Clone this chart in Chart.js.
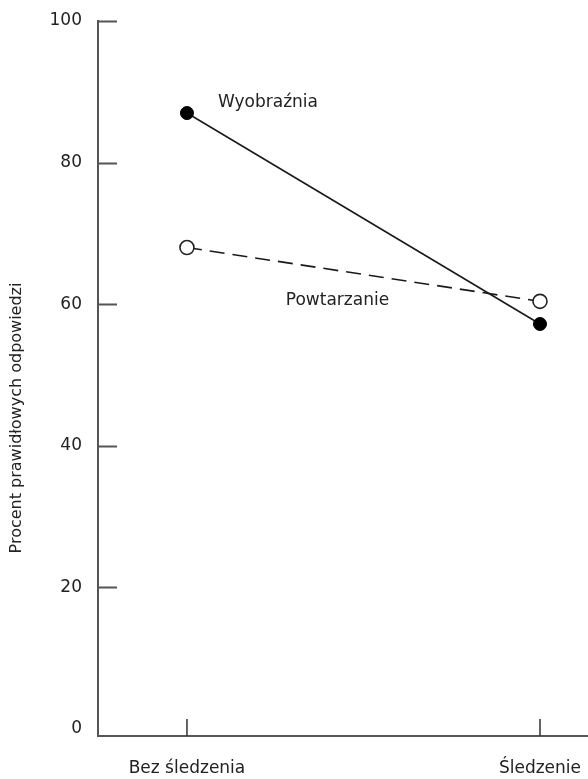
<!DOCTYPE html>
<html><head><meta charset="utf-8">
<script src="https://cdn.jsdelivr.net/npm/chart.js@4/dist/chart.umd.min.js"></script>
<style>html,body{margin:0;padding:0;background:#fff}#wrap{width:588px;height:779px;position:relative}</style>
</head><body><div id="wrap"><canvas id="c"></canvas></div>
<script>
const categories = ['Bez śledzenia', 'Śledzenie'];
const seriesNames = ['Wyobraźnia', 'Powtarzanie'];
const wyobraznia = [87, 57.2];
const powtarzanie = [68, 60.4];
const yTicks = [0, 20, 40, 60, 80, 100];
const yTitle = 'Procent prawidłowych odpowiedzi';

const FONT = '"DejaVu Sans", Verdana, sans-serif';
const AX = '#555';

const inwardTicks = {
  id: 'inwardTicks',
  afterDraw(chart) {
    const {ctx, chartArea: a, scales: {x, y}} = chart;
    ctx.save();
    ctx.strokeStyle = AX;
    ctx.lineWidth = 2;
    ctx.beginPath();
    yTicks.forEach(v => {
      if (v === 0) return;
      const py = Math.round(y.getPixelForValue(v)) + 0.5;
      ctx.moveTo(a.left, py); ctx.lineTo(a.left + 19, py);
    });
    ctx.stroke();
    ctx.lineWidth = 1.5;
    ctx.strokeStyle = '#333';
    ctx.beginPath();
    categories.forEach((c, i) => {
      const px = x.getPixelForValue(i);
      ctx.moveTo(px, a.bottom); ctx.lineTo(px, a.bottom - 17);
    });
    ctx.stroke();
    // series labels
    ctx.fillStyle = '#222';
    ctx.font = '17px ' + FONT;
    ctx.textBaseline = 'middle';
    ctx.textAlign = 'left';
    ctx.fillText(seriesNames[0], x.getPixelForValue(0) + 31, y.getPixelForValue(wyobraznia[0]) - 10);
    ctx.fillText(seriesNames[1], x.getPixelForValue(0.28), y.getPixelForValue(60.5));
    // y title
    ctx.font = '16px ' + FONT;
    ctx.save();
    ctx.translate(17, 418);
    ctx.rotate(-Math.PI / 2);
    ctx.textAlign = 'center';
    ctx.fillText(yTitle, 0, 0);
    ctx.restore();
    ctx.restore();
  }
};

new Chart(document.getElementById('c'), {
  type: 'scatter',
  data: {
    datasets: [
      {
        label: seriesNames[0],
        data: wyobraznia.map((v, i) => ({x: i, y: v})),
        showLine: true,
        borderColor: '#1a1a1a',
        borderWidth: 1.6,
        pointRadius: 6.5,
        pointBackgroundColor: '#000',
        pointBorderColor: '#000',
        pointBorderWidth: 1
      },
      {
        label: seriesNames[1],
        data: powtarzanie.map((v, i) => ({x: i, y: v})),
        showLine: true,
        borderColor: '#1a1a1a',
        borderWidth: 1.6,
        borderDash: [15, 8],
        pointRadius: 7,
        pointBackgroundColor: '#fff',
        pointBorderColor: '#222',
        pointBorderWidth: 1.6
      }
    ]
  },
  options: {
    responsive: true,
    maintainAspectRatio: false,
    animation: false,
    layout: {autoPadding: false, padding: {top: 21, right: 0, left: 0, bottom: 0}},
    plugins: {legend: {display: false}, tooltip: {enabled: false}},
    scales: {
      x: {
        type: 'linear',
        min: -0.252, max: 1.136,
        afterBuildTicks: s => { s.ticks = categories.map((c, i) => ({value: i})); },
        afterFit: s => { s.height = 43; s.paddingLeft = 0; s.paddingRight = 0; },
        grid: {display: false, drawTicks: false},
        border: {display: true, color: AX, width: 2},
        ticks: {
          callback: v => categories[v],
          color: '#222', font: {family: FONT, size: 17}, padding: 22,
          maxRotation: 0, autoSkip: false
        }
      },
      y: {
        type: 'linear',
        min: -1, max: 100,
        afterBuildTicks: s => { s.ticks = yTicks.map(v => ({value: v})); },
        afterFit: s => { s.width = 98; s.paddingTop = 0; s.paddingBottom = 0; },
        grid: {display: false, drawTicks: false},
        border: {display: true, color: AX, width: 2},
        ticks: {color: '#222', font: {family: FONT, size: 17}, padding: 16}
      }
    }
  },
  plugins: [inwardTicks]
});
</script>
</body></html>
